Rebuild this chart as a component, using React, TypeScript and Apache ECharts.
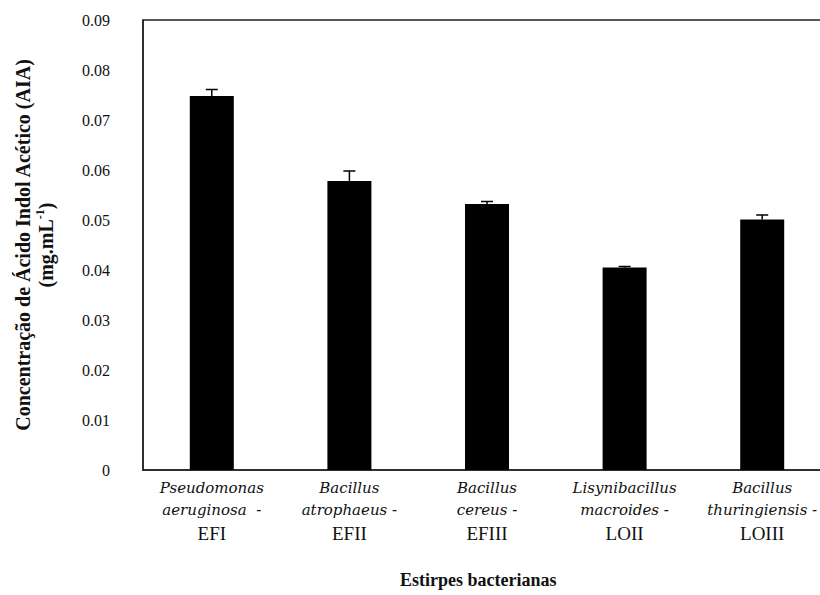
import React, { useEffect, useRef } from "react";
import * as echarts from "echarts";

const speciesLine1 = ["Pseudomonas", "Bacillus", "Bacillus", "Lisynibacillus", "Bacillus"];
const speciesLine2 = ["aeruginosa  -", "atrophaeus -", "cereus -", "macroides -", "thuringiensis -"];
const strainCodes = ["EFI", "EFII", "EFIII", "LOII", "LOIII"];
const iaaValues = [0.0748, 0.0578, 0.0532, 0.0405, 0.0501];
const iaaErrors = [0.0013, 0.002, 0.0005, 0.0002, 0.0009];
const yTicks = { min: 0, max: 0.09, interval: 0.01 };

export default function App() {
  const ref = useRef<HTMLDivElement>(null);
  useEffect(() => {
    if (!ref.current) return;
    const chart = echarts.init(ref.current, null, { renderer: "svg" });
    const serif = "'Liberation Serif', 'Times New Roman', serif";
    const wide = "'DejaVu Serif', serif";
    const categories = strainCodes.map((_, i) => String(i));
    chart.setOption({
      animation: false,
      textStyle: { fontFamily: serif },
      grid: {
        left: 143, right: -11, top: 20, bottom: 125,
        show: true, borderColor: "#222", borderWidth: 1.5,
        containLabel: false, outerBoundsMode: "none",
      },
      xAxis: {
        type: "category",
        data: categories,
        axisLine: { lineStyle: { color: "#222", width: 1.5 } },
        axisTick: { show: false },
        axisLabel: {
          interval: 0,
          margin: 7,
          hideOverlap: false,
          fontFamily: wide,
          formatter: (v: string) => {
            const i = Number(v);
            return `{i|${speciesLine1[i]}}\n{i|${speciesLine2[i]}}\n{n|${strainCodes[i]}}`;
          },
          rich: {
            i: { fontFamily: wide, fontStyle: "italic", fontSize: 15, lineHeight: 22, color: "#111" },
            n: { fontFamily: serif, fontSize: 19, lineHeight: 24, color: "#111" },
          },
        },
      },
      yAxis: {
        type: "value",
        min: yTicks.min,
        max: yTicks.max,
        interval: yTicks.interval,
        splitLine: { show: false },
        axisLine: { show: true, lineStyle: { color: "#222", width: 1.5 } },
        axisTick: { show: false },
        axisLabel: {
          margin: 33,
          fontFamily: serif,
          fontSize: 16,
          color: "#111",
          formatter: (v: number) => (v === 0 ? "0" : v.toFixed(2)),
        },
        name: "{b|Concentração de Ácido Indol Acético (AIA)}\n{b|(mg.mL}{s|-1}{b|)}",
        nameLocation: "middle",
        nameRotate: 90,
        nameGap: 86,
        nameTextStyle: {
          fontFamily: serif,
          rich: {
            b: { fontFamily: serif, fontWeight: "bold", fontSize: 20, lineHeight: 23, color: "#111" },
            s: { fontFamily: serif, fontWeight: "bold", fontSize: 12, lineHeight: 23, verticalAlign: "top", color: "#111" },
          },
        },
      },
      graphic: [
        {
          type: "text",
          left: 400,
          top: 571,
          style: { text: "Estirpes bacterianas", fontFamily: serif, fontWeight: "bold", fontSize: 18, fill: "#111" },
        },
      ],
      series: [
        {
          type: "bar",
          data: iaaValues,
          barWidth: 44,
          itemStyle: { color: "#000" },
        },
        {
          type: "custom",
          data: iaaValues.map((v, i) => [i, v, v + iaaErrors[i]]),
          renderItem: (params: any, api: any) => {
            const x = api.value(0);
            const p0 = api.coord([x, api.value(1)]);
            const p1 = api.coord([x, api.value(2)]);
            const half = 6;
            const st = { stroke: "#000", lineWidth: 1.5 };
            return {
              type: "group",
              children: [
                { type: "line", shape: { x1: p0[0], y1: p0[1], x2: p1[0], y2: p1[1] }, style: st },
                { type: "line", shape: { x1: p1[0] - half, y1: p1[1], x2: p1[0] + half, y2: p1[1] }, style: st },
              ],
            };
          },
          z: 5,
        },
      ],
    });
    return () => chart.dispose();
  }, []);
  return <div ref={ref} style={{ position: "fixed", left: 0, top: 0, width: 820, height: 595, background: "#fff" }} />;
}
